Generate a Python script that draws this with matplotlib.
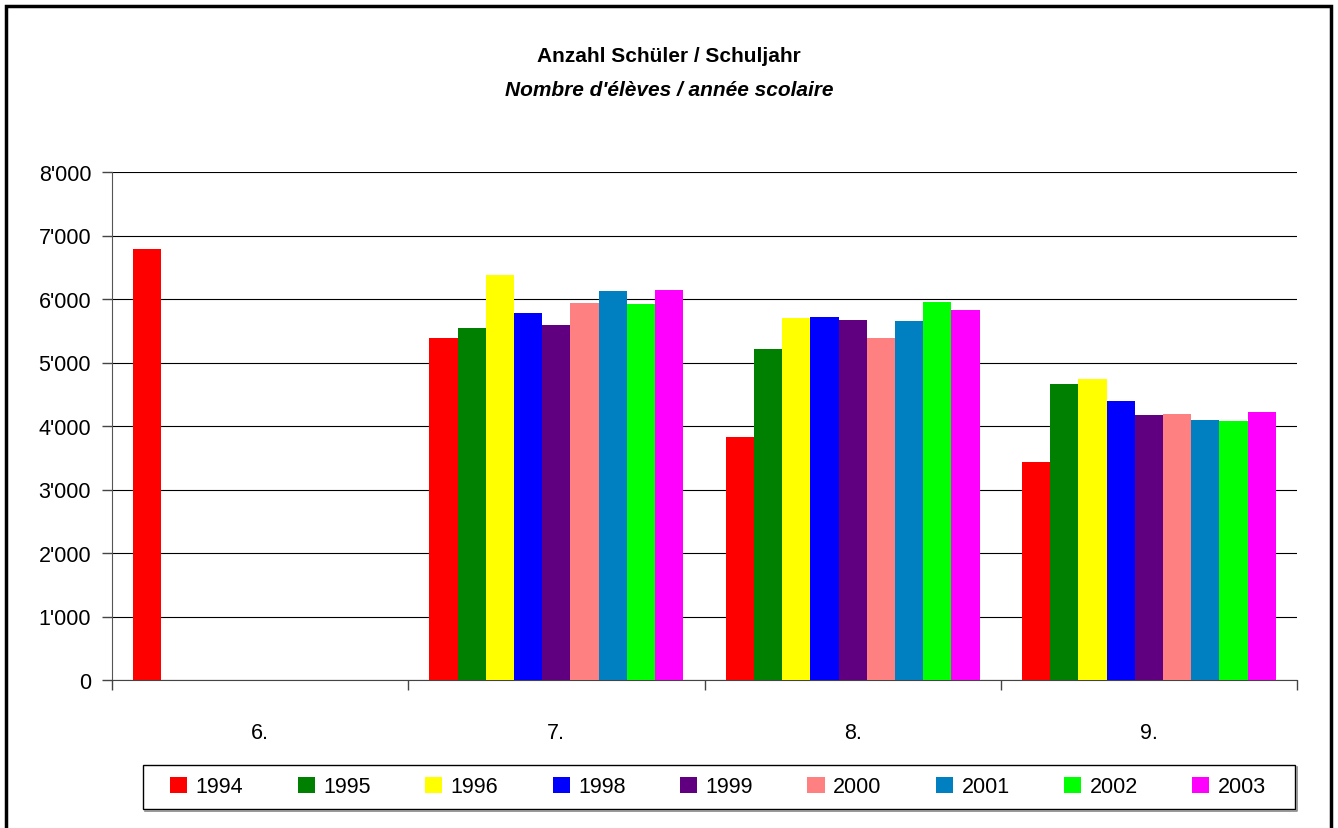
import numpy as np
import matplotlib
matplotlib.use("Agg")
import matplotlib.pyplot as plt
from matplotlib.patches import Patch, Rectangle
from matplotlib.lines import Line2D
from matplotlib.ticker import FuncFormatter

plt.rcParams['font.family'] = ['Liberation Sans Narrow', 'Liberation Sans', 'DejaVu Sans']

# Schulstufen
categories = ["6.", "7.", "8.", "9."]
years = ["1994", "1995", "1996", "1998", "1999", "2000", "2001", "2002", "2003"]
colors = ["#FF0000", "#008000", "#FFFF00", "#0000FF", "#600080",
          "#FF8080", "#0080C0", "#00FF00", "#FF00FF"]

nan = np.nan
v1994 = [6790, 5385, 3825, 3435]
v1995 = [nan, 5545, 5215, 4660]
v1996 = [nan, 6385, 5700, 4740]
v1998 = [nan, 5780, 5715, 4395]
v1999 = [nan, 5590, 5670, 4175]
v2000 = [nan, 5935, 5385, 4190]
v2001 = [nan, 6125, 5655, 4095]
v2002 = [nan, 5920, 5955, 4080]
v2003 = [nan, 6140, 5825, 4220]
series = [v1994, v1995, v1996, v1998, v1999, v2000, v2001, v2002, v2003]

W, H = 1338, 829
fig = plt.figure(figsize=(W / 100, H / 100), dpi=100)
ax = fig.add_axes([112 / W, 1 - 681 / H, (1297 - 112) / W, (681 - 173) / H])

x = np.arange(len(categories))
w = 1 / 10.5
for i, (vals, c, yr) in enumerate(zip(series, colors, years)):
    ax.bar(x + (i - 4) * w, vals, width=w, color=c, linewidth=0, label=yr, zorder=3)

ax.set_xlim(-0.5, 3.5)
ax.set_ylim(0, 8000)
ax.set_yticks(range(0, 8001, 1000))
ax.yaxis.set_major_formatter(FuncFormatter(lambda v, p: f"{v:,.0f}".replace(",", "'")))
ax.grid(axis="y", color="black", linewidth=0.8, zorder=0)
ax.set_axisbelow(True)

ax.set_xticks(x)
ax.set_xticklabels(categories)
ax.set_xticks(np.arange(-0.5, 3.6, 1), minor=True)
ax.tick_params(axis="x", which="major", length=0, pad=30, labelsize=15.5)
ax.tick_params(axis="x", which="minor", length=7, width=1, color="#444444", direction="out")
ax.tick_params(axis="y", length=7, width=1, color="#444444", pad=8, labelsize=15.5)

for s in ["top", "right"]:
    ax.spines[s].set_visible(False)
ax.spines["left"].set_color("#555555")
ax.spines["bottom"].set_color("#444444")

# Titel
fig.text(0.5, 1 - 57 / H, "Anzahl Schüler / Schuljahr", ha="center", va="center",
         fontsize=15, fontweight="bold")
fig.text(0.5, 1 - 90 / H, "Nombre d'élèves / année scolaire", ha="center", va="center",
         fontsize=15, fontweight="bold", style="italic")

# Legende
handles = [Patch(facecolor=c, edgecolor="none", label=y) for c, y in zip(colors, years)]
fig.legend(handles=handles, loc="center left", ncol=9, frameon=False, mode="expand",
           bbox_to_anchor=(170 / W, 1 - 810 / H, (1266 - 170) / W, 44 / H),
           fontsize=15.5, handlelength=0.8, handleheight=0.8, handletextpad=0.4,
           borderpad=0, borderaxespad=0)
fig.add_artist(Rectangle((143 / W, 1 - 810 / H), 1152 / W, 44 / H, transform=fig.transFigure,
                         facecolor="white", edgecolor="black", linewidth=1, zorder=-1))
fig.add_artist(Line2D([145 / W, 1296.5 / W, 1296.5 / W],
                      [1 - 811.5 / H, 1 - 811.5 / H, 1 - 768 / H],
                      transform=fig.transFigure, color="#888888", linewidth=1.2))

# Rahmen
fig.add_artist(Rectangle((6.5 / W, -0.01), 1324 / W, 1 - 7 / H + 0.01, transform=fig.transFigure,
                         facecolor="none", edgecolor="black", linewidth=2.5))

fig.savefig("out.png", dpi=100)
